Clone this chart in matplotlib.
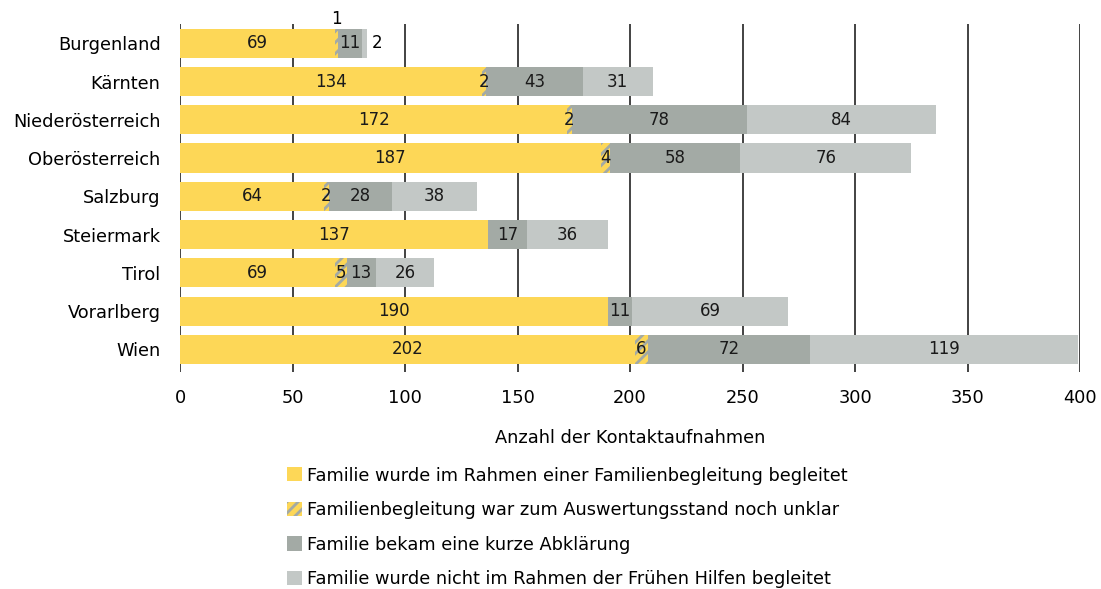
import matplotlib
matplotlib.use('Agg')
import matplotlib.pyplot as plt
from matplotlib.patches import Patch
import numpy as np

# data
regions = ['Burgenland', 'Kärnten', 'Niederösterreich', 'Oberösterreich', 'Salzburg',
	'Steiermark', 'Tirol', 'Vorarlberg', 'Wien']
begleitet = [69, 134, 172, 187, 64, 137, 69, 190, 202]
unklar = [1, 2, 2, 4, 2, 0, 5, 0, 6]
abklaerung = [11, 43, 78, 58, 28, 17, 13, 11, 72]
nicht_begleitet = [2, 31, 84, 76, 38, 36, 26, 69, 119]

series_labels = [
	'Familie wurde im Rahmen einer Familienbegleitung begleitet',
	'Familienbegleitung war zum Auswertungsstand noch unklar',
	'Familie bekam eine kurze Abklärung',
	'Familie wurde nicht im Rahmen der Frühen Hilfen begleitet',
]

YELLOW = '#fdd757'
DARK = '#a3aaa5'
LIGHT = '#c3c8c6'

plt.rcParams['font.family'] = ['DejaVu Sans']
plt.rcParams['hatch.linewidth'] = 2.0

fig = plt.figure(figsize=(11.01, 5.89), dpi=100)
ax = fig.add_axes([0.1635, 0.368, 0.8175, 0.591])

y = np.arange(len(regions))
h = 0.76
series = [begleitet, unklar, abklaerung, nicht_begleitet]
left = np.zeros(len(regions))

for i, vals in enumerate(series):
	vals = np.array(vals, dtype=float)
	if i == 0:
		ax.barh(y, vals, left=left, height=h, color=YELLOW, zorder=3)
	elif i == 1:
		ax.barh(y, vals, left=left, height=h, color=YELLOW, edgecolor=DARK,
			linewidth=0, hatch='///', zorder=3)
	elif i == 2:
		ax.barh(y, vals, left=left, height=h, color=DARK, zorder=3)
	else:
		ax.barh(y, vals, left=left, height=h, color=LIGHT, zorder=3)

	for j, v in enumerate(vals):
		if v == 0:
			continue
		cx = left[j] + v / 2
		cy = y[j]
		if j == 0 and i == 1:
			# too narrow: label above the bar
			ax.text(cx, cy - h / 2 - 0.02, '%d' % v, ha='center', va='bottom',
				fontsize=12, zorder=5)
		elif j == 0 and i == 3:
			ax.text(left[j] + v + 2, cy, '%d' % v, ha='left', va='center',
				fontsize=12, zorder=5)
		else:
			ax.text(cx, cy, '%d' % v, ha='center', va='center', fontsize=12,
				color='#1a1a1a', zorder=5)
	left = left + vals

ax.set_xlim(0, 400)
ax.set_ylim(8.6, -0.5)
ax.set_xticks(range(0, 401, 50))
ax.set_yticks(y)
ax.set_yticklabels(regions, fontsize=12.8)
ax.tick_params(axis='x', labelsize=12.8, length=0, pad=12)
ax.tick_params(axis='y', length=0, pad=14)
ax.grid(axis='x', color='#222222', linewidth=1.2, zorder=0)
for s in ['top', 'right', 'bottom', 'left']:
	ax.spines[s].set_visible(False)
ax.set_xlabel('Anzahl der Kontaktaufnahmen', fontsize=12.8, labelpad=16)

handles = [
	Patch(facecolor=YELLOW, linewidth=0),
	Patch(facecolor=YELLOW, edgecolor=DARK, linewidth=0, hatch='///'),
	Patch(facecolor=DARK, linewidth=0),
	Patch(facecolor=LIGHT, linewidth=0),
]
fig.legend(handles, series_labels, loc='upper left', bbox_to_anchor=(0.254, 0.22),
	frameon=False, fontsize=12.8, handlelength=0.85, handleheight=0.85,
	handletextpad=0.3, labelspacing=0.93, borderaxespad=0)

plt.savefig('out.png', dpi=100)
